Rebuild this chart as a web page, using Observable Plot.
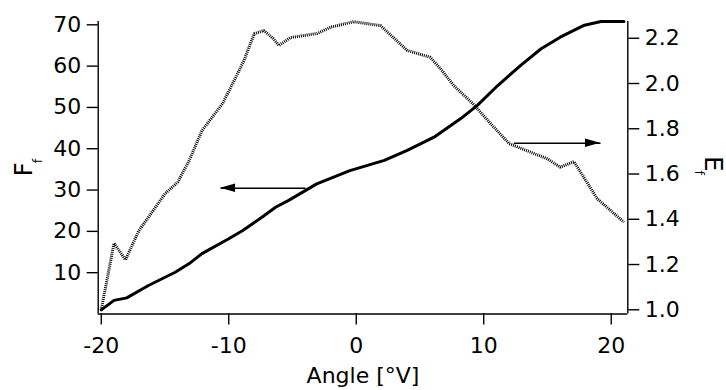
<!DOCTYPE html>
<html><head><meta charset="utf-8">
<script src="https://cdn.jsdelivr.net/npm/d3@7"></script>
<script src="https://cdn.jsdelivr.net/npm/@observablehq/plot@0.6"></script>
<style>body{margin:0;background:#fff}</style>
</head><body><div id="chart"></div>
<script>
// F_f series (solid line, left axis)
const ffAngle = [-20, -19, -18, -16.3, -14.2, -13.1, -12.1, -10, -8.9, -7.4, -6.3, -5.3, -3.1, -0.5, 2.2, 4.0, 6.1, 8.2, 9.5, 11.1, 12.9, 14.5, 16.0, 17.9, 19.2, 21.0];
const ffValue = [1.0, 3.3, 3.9, 6.9, 10.1, 12.2, 14.6, 18.2, 20.2, 23.4, 25.9, 27.5, 31.5, 34.7, 37.2, 39.6, 42.8, 47.3, 50.5, 55.3, 60.2, 64.2, 67.0, 69.9, 70.8, 70.8];
// E_f series (dotted line, right axis)
const efAngle = [-20, -19, -18.1, -17.05, -16.3, -15, -14, -13.1, -12.1, -10.5, -9.7, -8.8, -8.0, -7.25, -6.5, -6.07, -5.15, -3.06, -2.0, -0.2, 1.9, 4.0, 5.8, 6.6, 7.65, 9.22, 10.6, 12.0, 15.0, 16.0, 17.07, 18.9, 21.0];
const efValue = [1.0, 1.294, 1.221, 1.350, 1.409, 1.513, 1.564, 1.660, 1.792, 1.910, 1.999, 2.102, 2.220, 2.234, 2.198, 2.168, 2.203, 2.221, 2.249, 2.273, 2.256, 2.146, 2.116, 2.066, 1.991, 1.907, 1.819, 1.734, 1.667, 1.630, 1.655, 1.491, 1.387];

const xTicks = [-20, -10, 0, 10, 20];
const fTicks = [10, 20, 30, 40, 50, 60, 70];
const eTicks = [1.0, 1.2, 1.4, 1.6, 1.8, 2.0, 2.2];
const xLabel = "Angle [°V]";
const fLabel = ["F", "f"];
const eLabel = ["E", "f"];

// annotation arrows: [tail angle, tip angle] at a level
const arrowFAngles = [-3.97, -10.64];
const arrowFLevel = 30.45;
const arrowEAngles = [12.36, 19.16];
const arrowELevel = 1.736;

const xDomain = [-20.24, 21.3];
const fDomain = [0, 70.8];
const eDomain = [0.9814, 2.274];
const eToF = d3.scaleLinear(eDomain, fDomain);

const ff = ffAngle.map((x, i) => ({x, y: ffValue[i]}));
const ef = efAngle.map((x, i) => ({x, y: eToF(efValue[i])}));
const arrows = [
  {x1: arrowFAngles[0], x2: arrowFAngles[1], y: arrowFLevel},
  {x1: arrowEAngles[0], x2: arrowEAngles[1], y: eToF(arrowELevel)}
];

const FONT = "DejaVu Sans, Verdana, sans-serif";
const FS = 22;
const LFS = 24;

const chart = Plot.plot({
  width: 726,
  height: 390,
  marginLeft: 97.7,
  marginRight: 98.7,
  marginTop: 21,
  marginBottom: 76.5,
  style: {fontFamily: FONT, fontSize: FS + "px", color: "#000", background: "#fff"},
  x: {domain: xDomain},
  y: {domain: fDomain},
  marks: [
    Plot.ruleX([xDomain[0]], {stroke: "#000", strokeWidth: 1.4}),
    Plot.ruleX([xDomain[1]], {stroke: "#000", strokeWidth: 1.4}),
    Plot.ruleY([fDomain[0]], {stroke: "#000", strokeWidth: 1.4}),
    Plot.axisX({ticks: xTicks, tickFormat: d => String(d), tickSize: 11, tickPadding: 12, label: null, fontSize: FS, stroke: "#000", strokeWidth: 1.4}),
    Plot.axisY({anchor: "left", ticks: fTicks, tickFormat: d => String(d), tickSize: 11, tickPadding: 6, label: null, fontSize: FS, stroke: "#000", strokeWidth: 1.4}),
    Plot.axisY(eTicks.map(e => eToF(e)), {anchor: "right", tickFormat: d => eToF.invert(d).toFixed(1), tickSize: 11, tickPadding: 6, label: null, fontSize: FS, stroke: "#000", strokeWidth: 1.4}),
    Plot.line(ef, {x: "x", y: "y", stroke: "#000", strokeWidth: 3, strokeDasharray: "1,1", strokeLinecap: "butt", strokeLinejoin: "miter"}),
    Plot.line(ff, {x: "x", y: "y", stroke: "#000", strokeWidth: 3, strokeLinejoin: "round"}),
    Plot.link(arrows, {x1: "x1", x2: "x2", y1: "y", y2: "y", stroke: "#000", strokeWidth: 1.4}),
    Plot.text([xLabel], {frameAnchor: "bottom", dy: 68.5, fontSize: FS, fill: "#000"}),
    Plot.text([fLabel.join("")], {frameAnchor: "left", dx: -73.9, dy: 8.4, rotate: -90, textAnchor: "start", fontSize: LFS, fill: "#000"}),
    Plot.text([eLabel.join("")], {frameAnchor: "right", dx: 84.5, dy: -11.5, rotate: 90, textAnchor: "start", fontSize: LFS, fill: "#000"})
  ]
});

// arrowheads via the chart's own scales
const sx = chart.scale("x"), sy = chart.scale("y");
const svg = d3.select(chart);
for (const a of arrows) {
  const tx = sx.apply(a.x2), ty = sy.apply(a.y);
  const dir = Math.sign(a.x2 - a.x1);
  const bx = tx - dir * 15;
  svg.append("path")
    .attr("d", `M${tx},${ty}L${bx},${ty - 4.2}L${bx},${ty + 4.2}Z`)
    .attr("fill", "#000");
}

// subscripts for the axis labels
svg.selectAll("text").each(function() {
  const t = this.textContent;
  const lab = t === fLabel.join("") ? fLabel : t === eLabel.join("") ? eLabel : null;
  if (!lab) return;
  const el = d3.select(this);
  el.text(lab[0]);
  el.append("tspan").attr("dx", "-1").attr("dy", "10").attr("font-size", "13px").text(lab[1]);
});

document.getElementById("chart").append(chart);
</script>
</body></html>
